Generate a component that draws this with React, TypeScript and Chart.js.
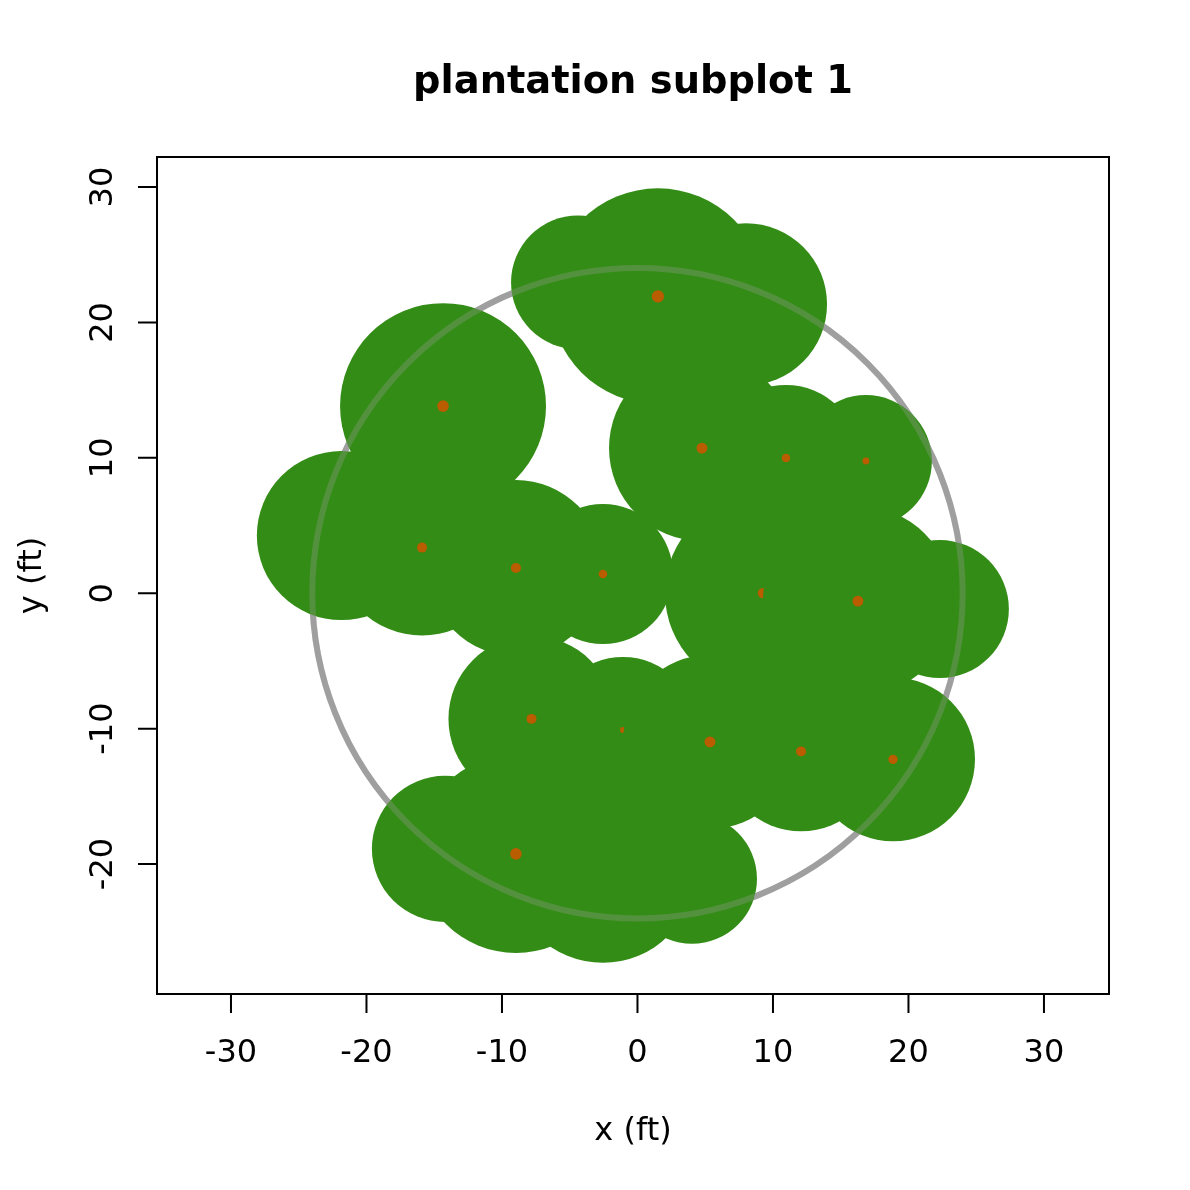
import React, { useEffect, useRef } from 'react';
import { Chart, registerables } from 'chart.js';

Chart.register(...registerables);

// ---- data (feet) ----
// listed in drawing order (each crown is drawn, then its stem point)
const treeIds = ['A', 'C', 'B', 'E', 'D', 'F', 'G', 'H', 'I', 'J', 'K', 'L', 'N', 'M', 'P', 'O', 'Q', 'R', 'S', 'W', 'V', 'T', 'U'];
const treeX = [-4.39, 8.01, 1.51, -21.85, -14.35, -15.9, -8.97, -2.55, 4.76, 10.96, 16.86, 9.26, 22.32, 16.27, -1.07, -7.82, 5.35, 12.07, 18.86, 4.02, -2.55, -14.21, -8.97];
const treeY = [22.96, 21.34, 21.93, 4.26, 13.82, 3.37, 1.86, 1.42, 10.72, 9.99, 9.76, 0.01, -1.17, -0.58, -10.1, -9.28, -10.98, -11.68, -12.27, -21.09, -20.43, -18.88, -19.25];
const crownRadius = [4.94, 5.98, 7.97, 6.24, 7.6, 6.49, 6.49, 5.17, 6.86, 5.39, 4.87, 7.23, 5.09, 7.01, 5.39, 6.13, 6.42, 5.9, 6.05, 4.8, 6.86, 5.39, 7.31];
const stemDbh = [9, 9, 10.6, 7, 10, 8.6, 8.6, 7.4, 9.4, 7.4, 6, 9, 8, 9.4, 5, 8.6, 9.4, 8.6, 8, 4.5, 9, 8, 10];
const plotRadius = 24;

const xTicks = [-30, -20, -10, 0, 10, 20, 30];
const yTicks = [-20, -10, 0, 10, 20, 30];
const titleText = 'plantation subplot 1';
const xLabel = 'x (ft)';
const yLabel = 'y (ft)';

const X_MIN = -35.46;
const X_MAX = 34.8;
const Y_MIN = -29.6;
const Y_MAX = 32.22;

const GREEN = '#338C15';
const ORANGE = '#BA5C00';
const GREY_UNDER = 'rgb(160,160,160)';
const GREY_OVER = 'rgba(160,160,160,0.3)';
const FONT = '"DejaVu Sans", "Liberation Sans", sans-serif';

function ftToPx(chart: any, r: number) {
  const xs = chart.scales.x;
  return Math.abs(xs.getPixelForValue(r) - xs.getPixelForValue(0));
}

const rAxesPlugin = {
  id: 'rAxes',
  beforeDraw(chart: any) {
    const { ctx, width, height } = chart;
    ctx.save();
    ctx.fillStyle = '#ffffff';
    ctx.fillRect(0, 0, width, height);
    ctx.restore();
  },
  afterDraw(chart: any) {
    const { ctx, chartArea } = chart;
    const xs = chart.scales.x;
    const ys = chart.scales.y;
    const { left, right, top, bottom } = chartArea;
    const tick = 19;
    ctx.save();
    ctx.strokeStyle = '#000000';
    ctx.lineWidth = 2;
    ctx.strokeRect(left, top, right - left, bottom - top);

    // x axis
    ctx.beginPath();
    ctx.moveTo(xs.getPixelForValue(xTicks[0]), bottom);
    ctx.lineTo(xs.getPixelForValue(xTicks[xTicks.length - 1]), bottom);
    xTicks.forEach((v) => {
      const px = xs.getPixelForValue(v);
      ctx.moveTo(px, bottom);
      ctx.lineTo(px, bottom + tick);
    });
    // y axis
    ctx.moveTo(left, ys.getPixelForValue(yTicks[0]));
    ctx.lineTo(left, ys.getPixelForValue(yTicks[yTicks.length - 1]));
    yTicks.forEach((v) => {
      const py = ys.getPixelForValue(v);
      ctx.moveTo(left, py);
      ctx.lineTo(left - tick, py);
    });
    ctx.stroke();

    ctx.fillStyle = '#000000';
    ctx.font = `32px ${FONT}`;
    ctx.textAlign = 'center';
    ctx.textBaseline = 'alphabetic';
    xTicks.forEach((v) => {
      ctx.fillText(String(v), xs.getPixelForValue(v), 1062);
    });
    yTicks.forEach((v) => {
      ctx.save();
      ctx.translate(112, ys.getPixelForValue(v));
      ctx.rotate(-Math.PI / 2);
      ctx.fillText(String(v), 0, 0);
      ctx.restore();
    });

    // axis titles
    const cx = (left + right) / 2;
    const cy = (top + bottom) / 2;
    ctx.fillText(xLabel, cx, 1140);
    ctx.save();
    ctx.translate(41, cy);
    ctx.rotate(-Math.PI / 2);
    ctx.fillText(yLabel, 0, 0);
    ctx.restore();

    // title
    ctx.font = `bold 38.4px ${FONT}`;
    ctx.fillText(titleText, cx, 93);
    ctx.restore();
  },
};

function ringDataset(label: string, color: string, order: number) {
  return {
    type: 'scatter',
    label,
    data: [{ x: 0, y: 0 }],
    order,
    pointRadius: (c: any) => ftToPx(c.chart, plotRadius),
    pointHoverRadius: (c: any) => ftToPx(c.chart, plotRadius),
    pointBackgroundColor: 'rgba(0,0,0,0)',
    pointBorderColor: color,
    pointBorderWidth: 6,
    pointHoverBorderWidth: 6,
    showLine: false,
  };
}

export default function App() {
  const canvasRef = useRef<HTMLCanvasElement | null>(null);

  useEffect(() => {
    if (!canvasRef.current) return;
    const n = treeX.length;
    const datasets: any[] = treeX.map((x, i) => ({
      type: 'scatter',
      label: treeIds[i],
      data: [
        { x, y: treeY[i] },
        { x, y: treeY[i] },
      ],
      order: n - i + 1,
      pointRadius: (c: any) => (c.dataIndex === 0 ? ftToPx(c.chart, crownRadius[i]) : stemDbh[i] * 0.58),
      pointHoverRadius: (c: any) => (c.dataIndex === 0 ? ftToPx(c.chart, crownRadius[i]) : stemDbh[i] * 0.58),
      pointBackgroundColor: [GREEN, ORANGE],
      pointBorderWidth: 0,
      pointHoverBorderWidth: 0,
      showLine: false,
    }));
    // plot boundary: drawn under the crowns, and again translucently over them
    datasets.push(ringDataset('plot boundary', GREY_UNDER, n + 5));
    datasets.push(ringDataset('plot boundary (over)', GREY_OVER, 0));

    const chart = new Chart(canvasRef.current, {
      type: 'scatter',
      data: { datasets },
      options: {
        responsive: false,
        animation: false,
        events: [],
        layout: { padding: { left: 157, top: 157, right: 81, bottom: 196 } },
        plugins: {
          legend: { display: false },
          title: { display: false },
          tooltip: { enabled: false },
        },
        scales: {
          x: { type: 'linear', min: X_MIN, max: X_MAX, display: false },
          y: { type: 'linear', min: Y_MIN, max: Y_MAX, display: false },
        },
      },
      plugins: [rAxesPlugin],
    } as any);
    return () => chart.destroy();
  }, []);

  return (
    <div style={{ position: 'fixed', left: 0, top: 0, width: 1190, height: 1190, background: '#fff' }}>
      <canvas ref={canvasRef} width={1190} height={1190} style={{ width: 1190, height: 1190, display: 'block' }} />
    </div>
  );
}
